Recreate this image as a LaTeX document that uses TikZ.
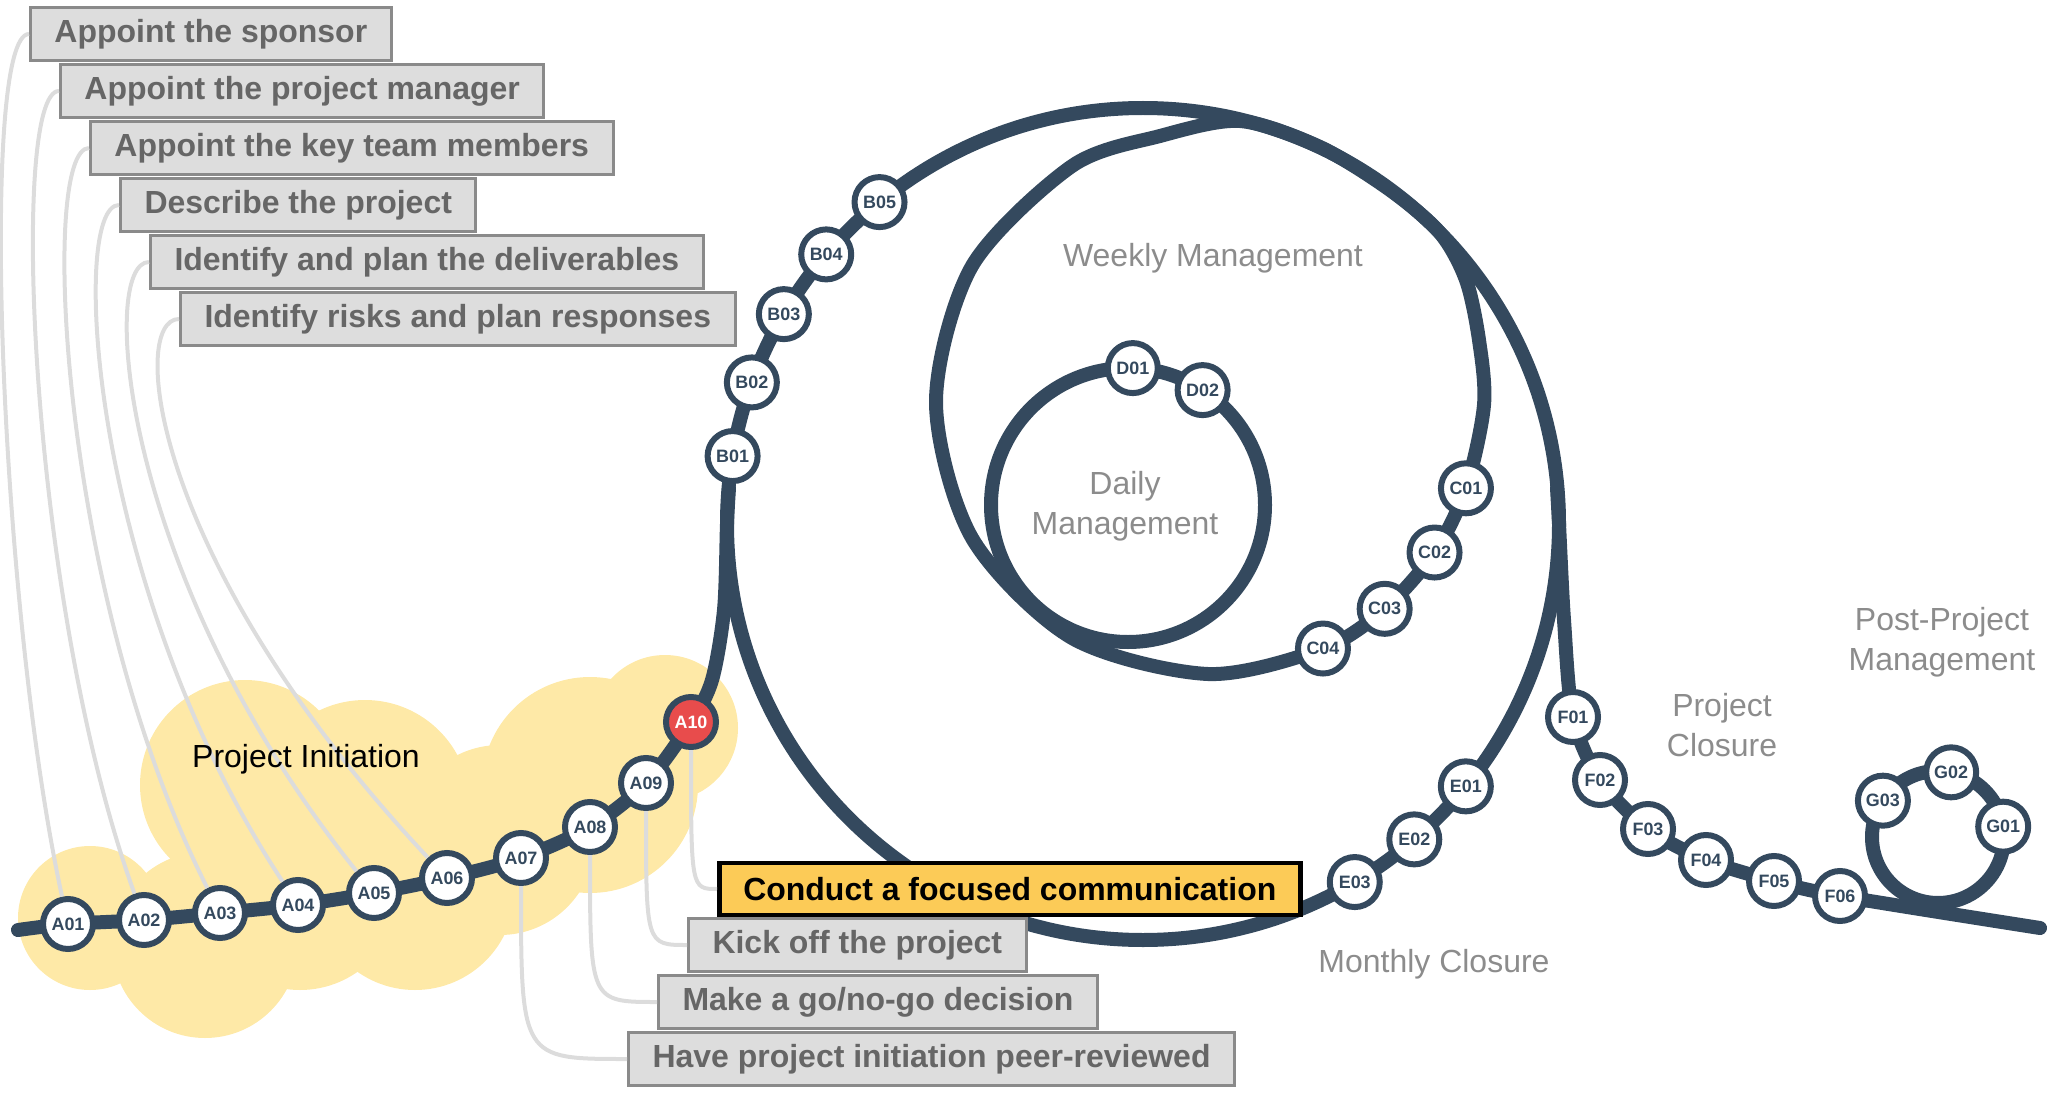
\documentclass[tikz,border=0pt]{standalone}
\usepackage{fontspec}
\setmainfont{Liberation Sans}
\usepackage{xcolor}
\usetikzlibrary{calc}
\definecolor{trackc}{RGB}{52,73,94}
\definecolor{alertc}{RGB}{232,76,76}
\definecolor{cloudc}{RGB}{254,233,167}
\definecolor{focusc}{RGB}{252,203,87}
\definecolor{boxc}{RGB}{221,221,221}
\definecolor{boxline}{RGB}{138,138,138}
\definecolor{boxtext}{RGB}{102,102,102}
\definecolor{phasec}{RGB}{140,140,140}
\definecolor{linkc}{RGB}{220,220,220}
\tikzset{
  rail/.style={draw=trackc, line width=1.4mm, line cap=round},
  station/.style={circle, draw=trackc, fill=white, line width=0.6mm,
                  minimum size=5mm, inner sep=0pt, text=trackc,
                  font=\fontsize{5.1}{6}\selectfont\bfseries},
  link/.style={draw=linkc, line width=0.4mm},
  taskbox/.style={draw=boxline, fill=boxc, line width=0.3mm, anchor=west,
                  minimum height=5.2mm, inner xsep=2.4mm, text=boxtext,
                  font=\fontsize{9.1}{11}\selectfont\bfseries},
  phaselabel/.style={text=phasec, align=center,
                     font=\fontsize{9.1}{11.3}\selectfont},
}

\begin{document}
\begin{tikzpicture}[x=0.1mm, y=-0.1mm]
  \useasboundingbox (0,0) rectangle (2056,1096);
  % centres of the loops
  \coordinate (hub) at (1143,524);
  \coordinate (whub) at (1208,402);
  \coordinate (dhub) at (1128,505);
  \coordinate (ghub) at (1938,837);
  % station points
  \foreach \n/\x/\y in {A01/68/924, A02/144/920, A03/220/913, A04/298/905,
      A05/374/893, A06/447/878, A07/521/858, A08/590/827, A09/646/783,
      A10/691/722, F01/1573/717, F02/1600/780, F03/1648/829, F04/1706/860,
      F05/1774/881, F06/1840/896}
    \coordinate (p\n) at (\x,\y);
  \foreach \n/\a in {B01/189.4, B02/199.9, B03/210.3, B04/220.4, B05/230.7,
      E01/39.1, E02/49.3, E03/59.4}
    \coordinate (p\n) at ($(hub)+(\a:416)$);
  \foreach \n/\a in {C01/18.5, C02/33.6, C03/49.5, C04/65}
    \coordinate (p\n) at ($(whub)+(\a:272)$);
  \foreach \n/\a in {D01/272, D02/303}
    \coordinate (p\n) at ($(dhub)+(\a:137)$);
  \foreach \n/\a in {G01/351, G02/281.5, G03/213.4}
    \coordinate (p\n) at ($(ghub)+(\a:66)$);

  % cloud
  \fill[cloudc] (90,918) circle[radius=72] (205,945) circle[radius=93]
    (245,785) circle[radius=105] (365,805) circle[radius=105]
    (300,890) circle[radius=100] (415,890) circle[radius=100]
    (500,840) circle[radius=95] (590,785) circle[radius=108]
    (665,728) circle[radius=73];

  % track
  \draw[rail] plot[smooth] coordinates {(18,930) (pA01) (pA02) (pA03) (pA04)
      (pA05) (pA06) (pA07) (pA08) (pA09) (pA10) (712,680) (724,610)
      (727,524) (729,488)};
  \draw[rail] (hub) circle[radius=416];
  \draw[rail] plot[smooth cycle] coordinates {(1240,121) (1320,147)
      (1390,190) (1440,233) (1466,280) (1479,340) (1484,405) (pC01) (pC02)
      (pC03) (pC04) (1208,674) (1072,638) (972,538) (936,402) (972,266)
      (1072,166) (1160,136)};
  \draw[rail] (dhub) circle[radius=137];
  \draw[rail] plot[smooth] coordinates {(1557,488) (1559,524) (1564,620)
      (pF01) (pF02) (pF03) (pF04) (pF05) (pF06) (2040,928)};
  \draw[rail] (ghub) circle[radius=66];

  % stations
  \foreach \n in {A01,A02,A03,A04,A05,A06,A07,A08,A09,B01,B02,B03,B04,B05,
      C01,C02,C03,C04,D01,D02,E01,E02,E03,F01,F02,F03,F04,F05,F06,G01,G02,G03}
    \node[station] (\n) at (p\n) {\n};
  \node[station, fill=alertc, text=white] (A10) at (pA10) {A10};

  % task boxes
  \node[taskbox] (t1) at (29,34) {Appoint the sponsor};
  \node[taskbox] (t2) at (59,91) {Appoint the project manager};
  \node[taskbox] (t3) at (89,148) {Appoint the key team members};
  \node[taskbox] (t4) at (119,205) {Describe the project};
  \node[taskbox] (t5) at (149,262) {Identify and plan the deliverables};
  \node[taskbox] (t6) at (179,319) {Identify risks and plan responses};
  \node[taskbox] (h4) at (627,1059) {Have project initiation peer-reviewed};
  \node[taskbox] (h3) at (657,1002) {Make a go/no-go decision};
  \node[taskbox] (h2) at (687,945) {Kick off the project};
  \node[taskbox, draw=black, fill=focusc, text=black, line width=0.45mm,
        minimum height=5.2mm] (h1) at (717,889) {Conduct a focused communication};

  % links
  \foreach \b/\s in {t1/A01, t2/A02, t3/A03, t4/A04, t5/A05, t6/A06}
    \draw[link] (\b.west) .. controls +(-50,0) and ($(\b.west |- \s)+(-30,-318)$) .. (\s);
  \foreach \s/\b in {A07/h4, A08/h3, A09/h2, A10/h1}
    \draw[link] (\s) .. controls (\s |- \b.west) .. (\b.west);

  % labels
  \node[font=\fontsize{9.1}{11}\selectfont] (init) at (306,759) {Project Initiation};
  \node[phaselabel] (weekly) at (1213,258) {Weekly Management};
  \node[phaselabel] (daily) at (1125,506) {Daily\\Management};
  \node[phaselabel] (monthly) at (1434,964) {Monthly Closure};
  \node[phaselabel] (closure) at (1722,725) {Project\\Closure};
  \node[phaselabel] (post) at (1942,642) {Post-Project\\Management};
\end{tikzpicture}
\end{document}
